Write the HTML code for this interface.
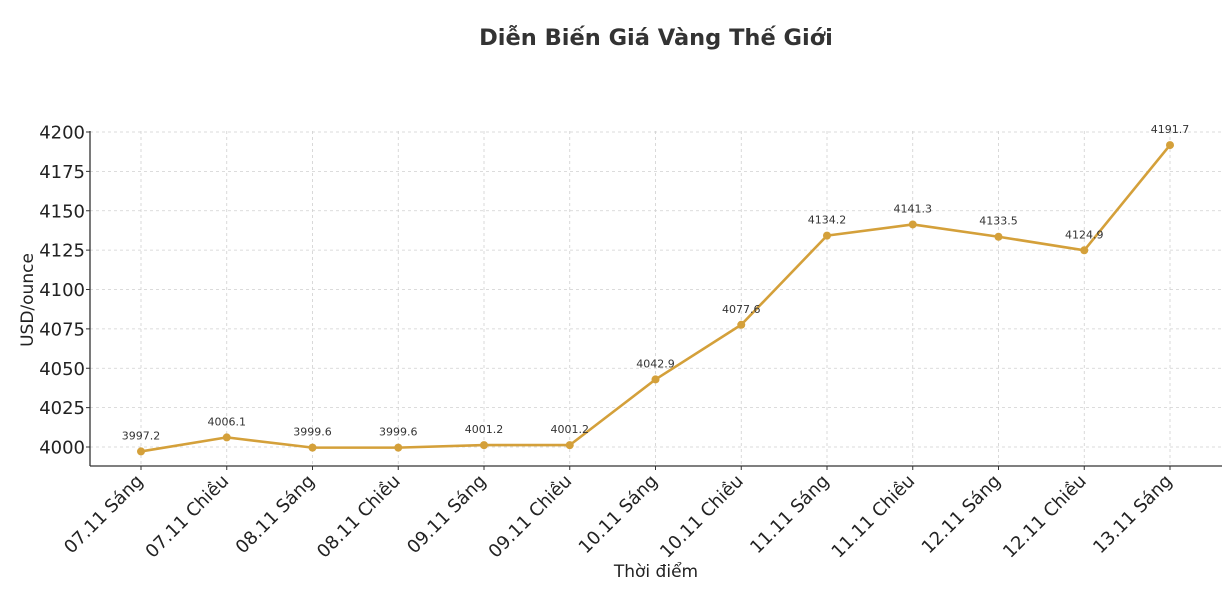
<!DOCTYPE html>
<html><head><meta charset="utf-8"><style>body{margin:0;background:#fff}svg{display:block}text{font-family:"DejaVu Sans","Liberation Sans",sans-serif}</style></head>
<body>
<svg width="1232" height="598" viewBox="0 0 1232 598">
<text x="656" y="45" font-size="22.5" font-weight="bold" fill="#333" text-anchor="middle">Diễn Biến Giá Vàng Thế Giới</text>
<g id="g"></g>
<script>
(function(){
var ns="http://www.w3.org/2000/svg",g=document.getElementById('g');
function el(t,a,txt){var e=document.createElementNS(ns,t);for(var k in a)e.setAttribute(k,a[k]);if(txt!=null)e.textContent=txt;g.appendChild(e);return e;}
var L=90,R=1222,B=466;
function Y(v){return 447-(v-4000)*1.575;}
function X(i){return 141+i*85.75;}
var labs=["07.11 Sáng","07.11 Chiều","08.11 Sáng","08.11 Chiều","09.11 Sáng","09.11 Chiều","10.11 Sáng","10.11 Chiều","11.11 Sáng","11.11 Chiều","12.11 Sáng","12.11 Chiều","13.11 Sáng"];
var d=[3997.2,4006.1,3999.6,3999.6,4001.2,4001.2,4042.9,4077.6,4134.2,4141.3,4133.5,4124.9,4191.7];
for(var v=4000;v<=4200;v+=25){var y=Y(v);el('line',{x1:L,x2:R,y1:y,y2:y,stroke:'#d0d0d0','stroke-width':0.8,'stroke-dasharray':'3,3'});
el('line',{x1:L-4,x2:L,y1:y,y2:y,stroke:'#333'});
el('text',{x:L-5,y:y+6.5,'font-size':18,fill:'#222','text-anchor':'end'},v);}
for(var i=0;i<13;i++){var x=X(i);el('line',{x1:x,x2:x,y1:131,y2:B,stroke:'#d0d0d0','stroke-width':0.8,'stroke-dasharray':'3,3'});
el('line',{x1:x,x2:x,y1:B,y2:B+4,stroke:'#333'});
var tx=x+3,ty=B+16;
el('text',{x:tx,y:ty,'font-size':18,fill:'#222','text-anchor':'end',transform:'rotate(-45 '+tx+' '+ty+')'},labs[i]);}
el('line',{x1:L,x2:L,y1:131,y2:B,stroke:'#333','stroke-width':1.3});
el('line',{x1:L,x2:R,y1:B,y2:B,stroke:'#333','stroke-width':1.3});
var p=d.map(function(v,i){return X(i)+','+Y(v)}).join(' ');
el('polyline',{points:p,fill:'none',stroke:'#D4A03A','stroke-width':2.6,'stroke-linejoin':'round'});
for(var i=0;i<13;i++){el('circle',{cx:X(i),cy:Y(d[i]),r:4,fill:'#D4A03A'});
el('text',{x:X(i),y:Y(d[i])-12,'font-size':11,fill:'#333','text-anchor':'middle'},d[i].toFixed(1));}
el('text',{x:656,y:577,'font-size':17,fill:'#222','text-anchor':'middle'},'Thời điểm');
el('text',{x:33,y:300,'font-size':17,fill:'#222','text-anchor':'middle',transform:'rotate(-90 33 300)'},'USD/ounce');
})();
</script>
</svg>
</body></html>
